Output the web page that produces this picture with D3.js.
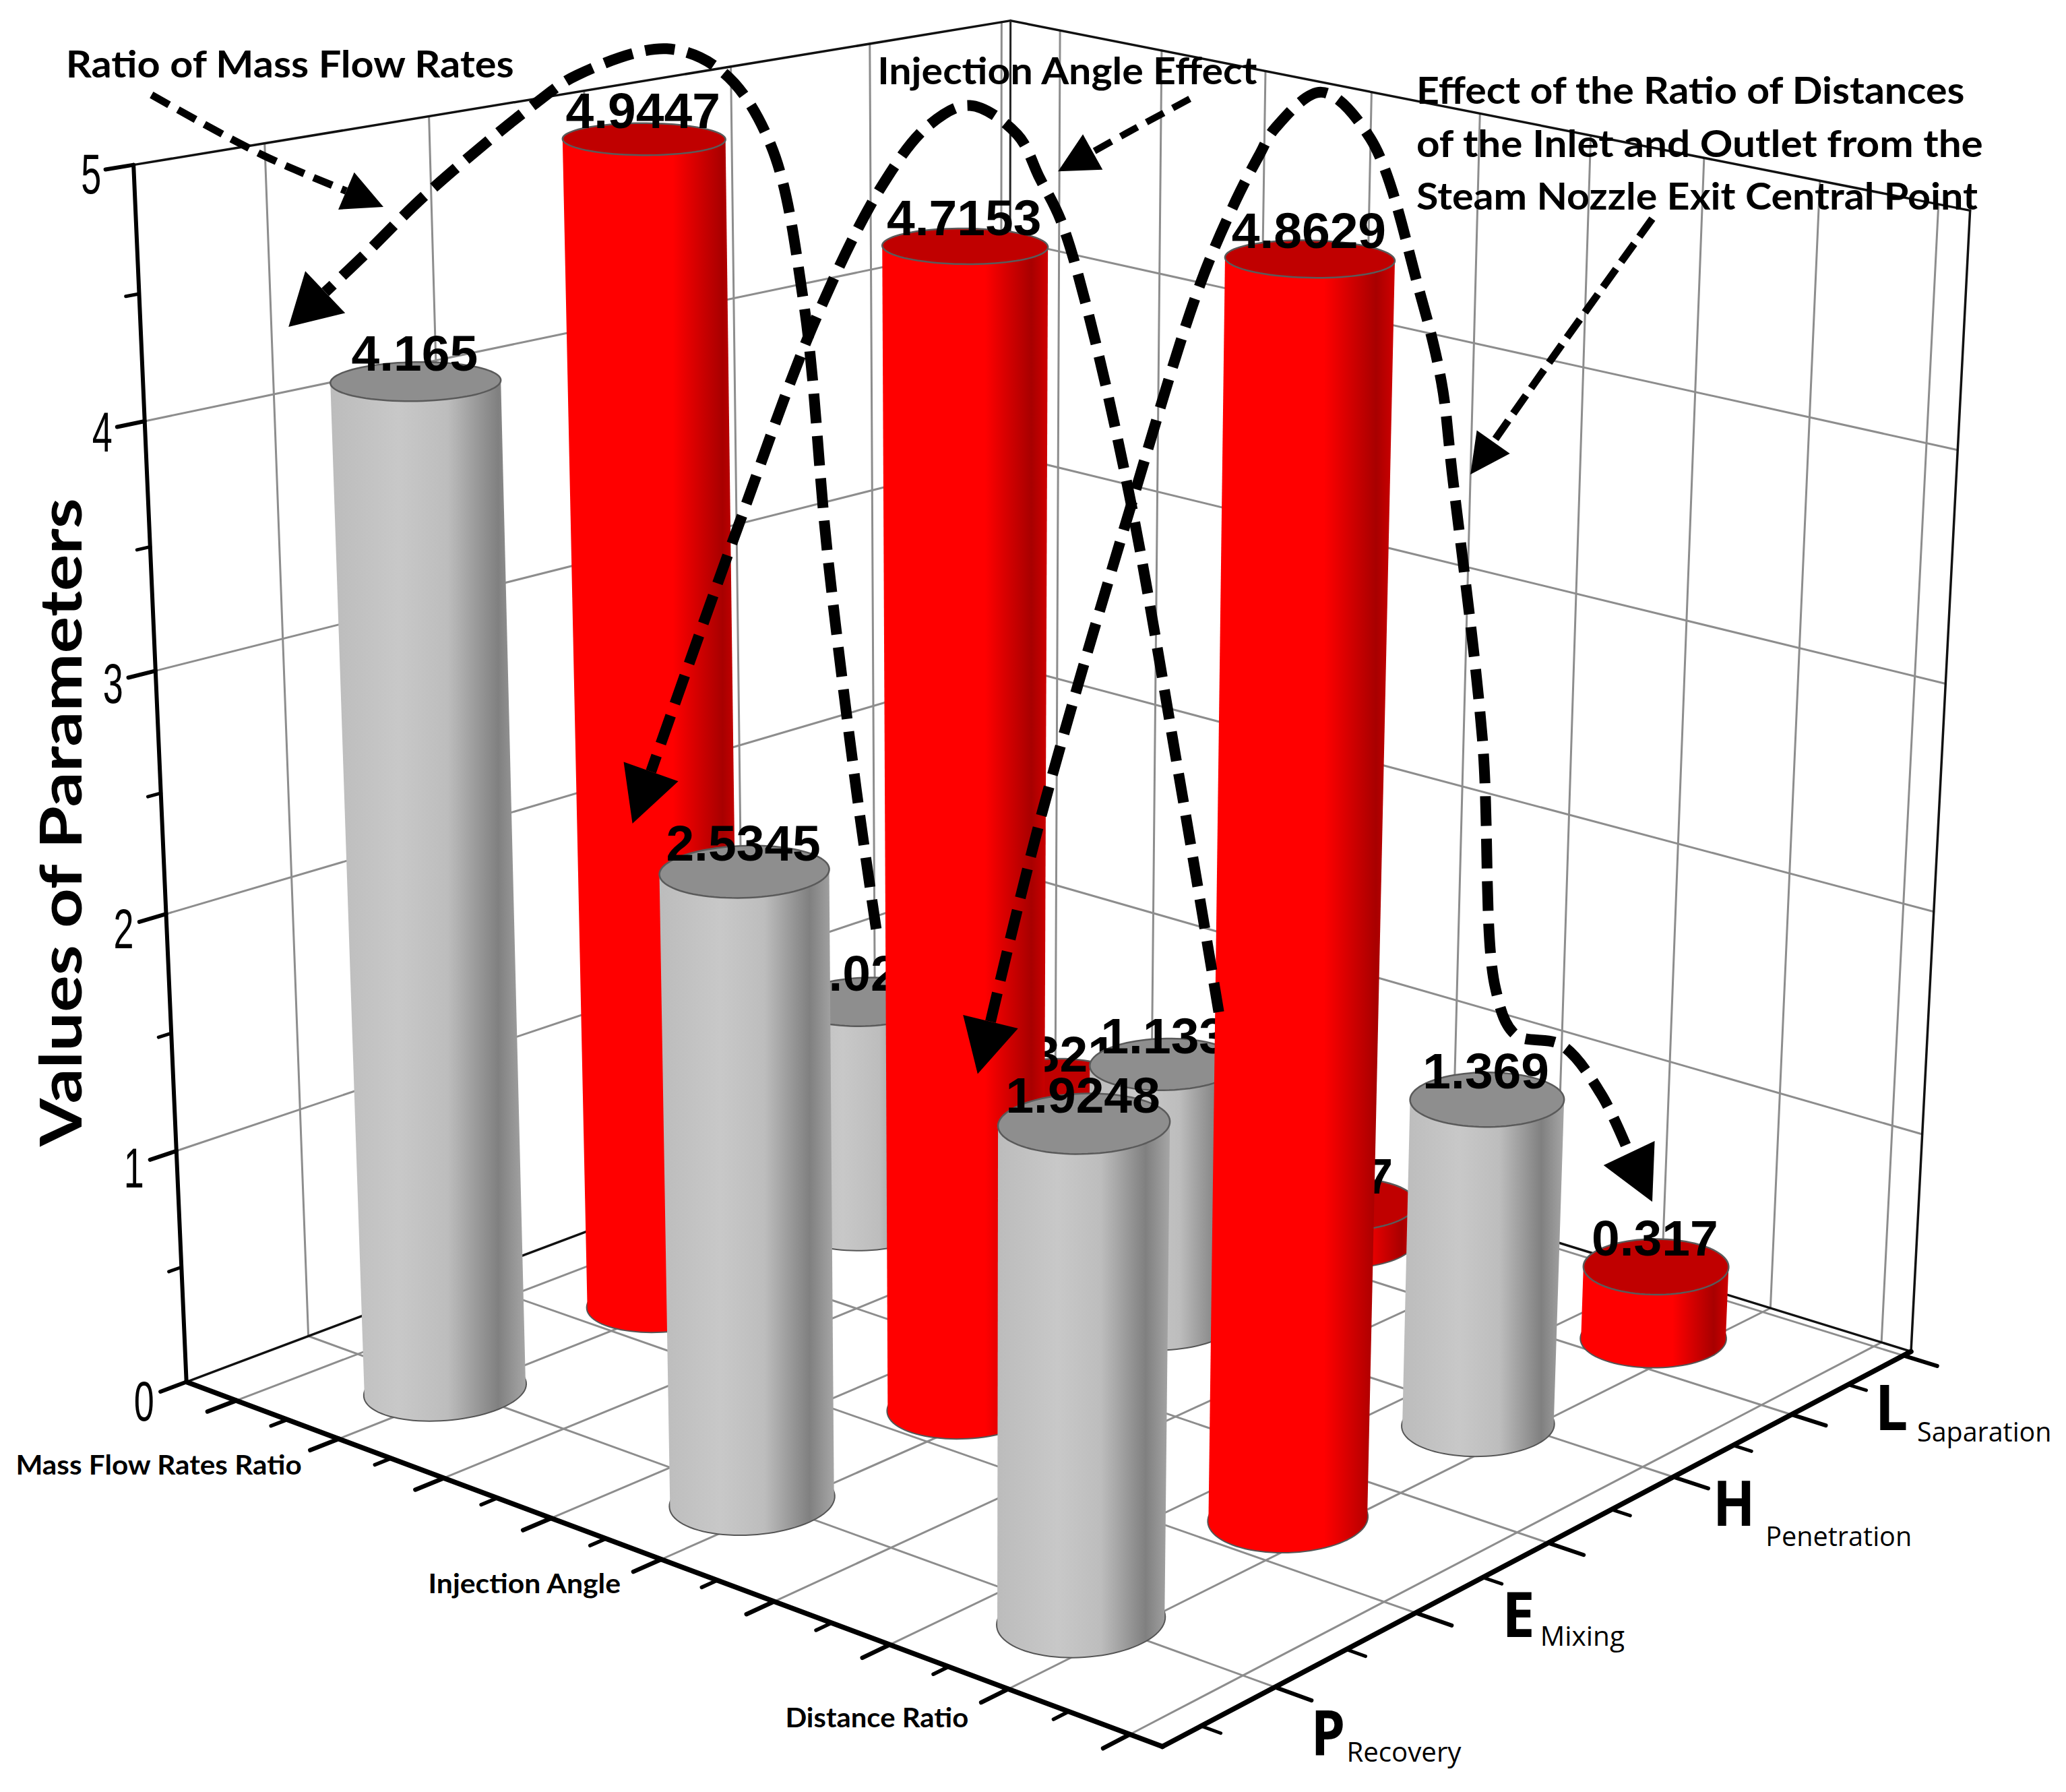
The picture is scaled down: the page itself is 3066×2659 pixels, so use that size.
<!DOCTYPE html>
<html><head><meta charset="utf-8">
<script src="https://cdnjs.cloudflare.com/ajax/libs/d3/7.8.5/d3.min.js"></script>
<style>html,body{margin:0;padding:0;background:#fff}svg{display:block}</style>
</head><body><svg id="c" width="3066" height="2659" xmlns="http://www.w3.org/2000/svg"></svg>
<script>
// ---------- data ----------
const columnNames = ['Mass Flow Rates Ratio','Injection Angle','Distance Ratio'];
const rowLetters  = ['P','E','H','L'];
const rowNames    = ['Recovery','Mixing','Penetration','Saparation'];
const rowRecovery    = [4.165, 2.5345, 1.9248];
const rowMixing      = [4.9447, 4.7153, 4.8629];
const rowPenetration = [1.024, 1.133, 1.369];
const rowSeparation  = [0.321, 0.17, 0.317];
const rowColors   = ['gray','red','gray','red'];
const valueTicks  = [0,1,2,3,4,5];
const yTitle = 'Values of Parameters';

// ---------- camera: reference points (u,v,w) -> picture ----------
const K0=3066/1568;
const boxCalib = [
 [0,0,0,285,2065],[1,0,0,1708,2593],[1,1,0,2846,1992],[0,1,0,1492,1590],
 [0,0,1,205,238],[0,1,1,1487,30],[1,1,1,2932,332]
];
const calib = [...boxCalib,...boxCalib,...boxCalib,
 [0,0,.4,251,1363],[0,0,.6,236,997],[1,0,1,1732,589],
 [.16,.375,.989,490*K0,107*K0],[.16,.125,.833,318*K0,290*K0]
];
function solve(M,b){const n=b.length;const A=M.map((r,i)=>[...r,b[i]]);
 for(let i=0;i<n;i++){let p=i;for(let k=i+1;k<n;k++)if(Math.abs(A[k][i])>Math.abs(A[p][i]))p=k;[A[i],A[p]]=[A[p],A[i]];
  for(let k=i+1;k<n;k++){const f=A[k][i]/A[i][i];for(let j=i;j<=n;j++)A[k][j]-=f*A[i][j];}}
 const x=Array(n).fill(0);for(let i=n-1;i>=0;i--){let s=A[i][n];for(let j=i+1;j<n;j++)s-=A[i][j]*x[j];x[i]=s/A[i][i];}return x;}
const rowsA=[],rhs=[];
calib.forEach(([u,v,w,X,Y])=>{const x=X/1000,y=Y/1000;
 rowsA.push([u,v,w,1,0,0,0,0,-x*u,-x*v,-x*w]);rhs.push(x);
 rowsA.push([0,0,0,0,u,v,w,1,-y*u,-y*v,-y*w]);rhs.push(y);});
const ATA=d3.range(11).map(i=>d3.range(11).map(j=>d3.sum(rowsA,r=>r[i]*r[j])));
const ATb=d3.range(11).map(i=>d3.sum(rowsA,(r,k)=>r[i]*rhs[k]));
const P=solve(ATA,ATb);
function project(u,v,w){const d=P[8]*u+P[9]*v+P[10]*w+1;
 return [1000*(P[0]*u+P[1]*v+P[2]*w+P[3])/d,1000*(P[4]*u+P[5]*v+P[6]*w+P[7])/d];}

// ---------- scales ----------
const uScale=d3.scaleLinear().domain([0,2]).range([.16,.82]);
const vScale=d3.scaleLinear().domain([0,3]).range([.125,.875]);
const wScale=d3.scaleLinear().domain([0,5]).range([0,1]);
const uTick=d3.scaleLinear().domain([0,8]).range([.0565,.97]);
const vTick=d3.scaleLinear().domain([0,5]).range([.13,.988]);
const barBoost=d3.scaleLinear().domain([.16,.82]).range([1.01,1.047]); // foreshortening of the columns toward the viewer
const rU=.0585,rV=.067;

const svg=d3.select('#c');
const line=d3.line();
const defs=svg.append('defs');
function grad(id,stops){const g=defs.append('linearGradient').attr('id',id).attr('x1',0).attr('x2',1).attr('y1',0).attr('y2',0);
 stops.forEach(([o,c])=>g.append('stop').attr('offset',o).attr('stop-color',c));}
grad('gray',[[0,'#bcbcbc'],[.35,'#c8c8c8'],[.6,'#bdbdbd'],[.86,'#808080'],[1,'#a6a6a6']]);
grad('red',[[0,'#ff0000'],[.62,'#ff0000'],[.9,'#a80000'],[1,'#d00000']]);

function seg(a,b,cls){svg.append('path').attr('d',line([project(...a),project(...b)])).attr('fill','none')
 .attr('stroke',cls.c).attr('stroke-width',cls.w).attr('stroke-linecap','round');}
const G={c:'#8d8d8d',w:3},K={c:'#111',w:3.5},T={c:'#000',w:7.5};

// ---------- grids ----------
const uM=d3.range(9).map(uTick),vM=d3.range(6).map(vTick);
uM.forEach(u=>{seg([u,0,0],[u,1,0],G);seg([u,1,0],[u,1,1],G);});
vM.forEach(v=>{seg([0,v,0],[1,v,0],G);seg([0,v,0],[0,v,1],G);});
valueTicks.slice(1,5).forEach(t=>{const w=wScale(t);seg([0,0,w],[0,1,w],G);seg([0,1,w],[1,1,w],G);});
// box edges
seg([0,0,1],[0,1,1],K);seg([0,1,1],[1,1,1],K);seg([0,0,0],[0,1,0],K);seg([0,1,0],[1,1,0],K);
seg([0,1,0],[0,1,1],{c:'#222',w:3});seg([1,1,0],[1,1,1],K);
// main axes
seg([0,0,0],[1,0,0],T);seg([1,0,0],[1,1,0],T);seg([0,0,0],[0,0,1],{c:'#000',w:6});
// ticks
d3.range(0,8.5,.5).forEach(i=>{const maj=Number.isInteger(i),u=uTick(i);seg([u,0,0],[u,-(maj?.03:.017),0],{c:'#000',w:maj?6.5:5.5});});
d3.range(-.5,5.5,.5).forEach(i=>{const maj=Number.isInteger(i),v=vTick(i);seg([1,v,0],[1+(maj?.034:.018),v,0],{c:'#000',w:maj?6:5});});
d3.range(0,5.5,.5).forEach(t=>{const maj=Number.isInteger(t),w=wScale(t);seg([0,0,w],[0,-(maj?.027:.013),w],{c:'#000',w:maj?6:5});});

// ---------- cylinders back to front ----------
const table=[rowRecovery,rowMixing,rowPenetration,rowSeparation];
const bars=[];table.forEach((vals,r)=>vals.forEach((val,c)=>bars.push({r,c,val,kind:rowColors[r]})));
bars.sort((a,b)=>(uScale(a.c)-vScale(a.r))-(uScale(b.c)-vScale(b.r)));
const angles=d3.range(0,360,4).map(d=>d*Math.PI/180);
const closed=d3.line().curve(d3.curveLinearClosed);
bars.forEach(b=>{
 const uc=uScale(b.c),vc=vScale(b.r),wt=wScale(b.val)*barBoost(uc);
 const ring=w=>angles.map(t=>project(uc+rU*Math.cos(t),vc+rV*Math.sin(t),w));
 const base=ring(0),top=ring(wt);
 const g=svg.append('g');
 g.append('path').attr('d',closed(base)).attr('fill','#555').attr('stroke','#555').attr('stroke-width',4);
 g.append('path').attr('d',closed(d3.polygonHull(base.concat(top)))).attr('fill',`url(#${b.kind})`);
 g.append('path').attr('d',closed(top)).attr('fill',b.kind==='red'?'#c00000':'#8e8e8e').attr('stroke','#5a5a5a').attr('stroke-width',2.5);
 const c=project(uc,vc,wt);
 g.append('text').attr('x',c[0]-2).attr('y',c[1]-16).attr('text-anchor','middle')
  .attr('font-family','"Liberation Sans"').attr('font-weight',700).attr('font-size',75).attr('fill','#000').text(String(b.val));
});

// ---------- annotations ----------
const k=K0, sc=a=>a.map(([x,y])=>[x*k,y*k]);
function head(tip,prev,len,hw){
 const a=Math.atan2(tip[1]-prev[1],tip[0]-prev[0]),ca=Math.cos(a),sa=Math.sin(a);
 const bc=[tip[0]-len*ca,tip[1]-len*sa];
 svg.append('path').attr('d',closed([tip,[bc[0]-hw*sa,bc[1]+hw*ca],[bc[0]+hw*sa,bc[1]-hw*ca]])).attr('fill','#000');
 return bc;
}
function arrow(pts,width,dash,len,hw,both){
 const p=sc(pts);
 const end=head(p[p.length-1],p[p.length-2],len,hw);
 let body=p.slice(0,-1).concat([end]);
 if(both){const st=head(p[0],p[1],len,hw);body=[st].concat(body.slice(1));}
 svg.append('path').attr('d',d3.line().curve(d3.curveCatmullRom.alpha(.5))(body)).attr('fill','none')
  .attr('stroke','#000').attr('stroke-width',width).attr('stroke-dasharray',dash);
}
arrow([[665,705],[650,600],[628,420],[610,230],[585,110],[549,55],[506,37],[438,57],[407,78],[325,146],[276,194],[219,248]],16,'44 19',75,43);
arrow([[925,768],[895,590],[858,380],[825,234],[805,167],[789,135],[772,102],[736,80],[705,95],[670,140],[620,240],[560,400],[480,625]],16,'44 19',82,43);
arrow([[742,815],[790,620],[858,385],[910,218],[938,152],[955,119],[968,97],[1003,70],[1040,105],[1077,220],[1094,290],[1102,358],[1125,560],[1135,750],[1150,785],[1185,793],[1215,830],[1254,912]],16,'44 19',80,42,true);
arrow([[115,72],[200,118],[291,157]],11,'30 15',60,30);
arrow([[903,75],[855,101],[803,130]],10,'29 15',59,30);
arrow([[1254,166],[1185,262],[1116,360]],11,'33 13',59,30);

function lab(t,x0,x1,y,fs,w,fam){svg.append('text').attr('x',x0*k).attr('y',y*k).attr('font-family',fam||'Lato').attr('font-weight',w||700)
 .attr('font-size',fs).attr('textLength',(x1-x0)*k).attr('lengthAdjust','spacingAndGlyphs').attr('fill','#000').text(t);}
lab('Ratio of Mass Flow Rates',50,390,59,56);
lab('Injection Angle Effect',666,954,64,56);
lab('Effect of the Ratio of Distances',1075,1491,79,56);
lab('of the Inlet and Outlet from the',1075,1505,119,56);
lab('Steam Nozzle Exit Central Point',1075,1501,159,56);
// column names
const colPos=[[12,229,1119],[325,471,1209],[596,735,1311]];
columnNames.forEach((n,i)=>lab(n,colPos[i][0],colPos[i][1],colPos[i][2],40));
// row names
const letterPos=[[995,1021,1332],[1140,1165,1242],[1300,1332,1158],[1423,1448,1085]];
const subPos=[[1022,1109,1337],[1169,1233,1249],[1340,1451,1173],[1455,1557,1094]];
rowLetters.forEach((n,i)=>lab(n,letterPos[i][0],letterPos[i][1],letterPos[i][2],94,700,'"Open Sans"'));
rowNames.forEach((n,i)=>lab(n,subPos[i][0],subPos[i][1],subPos[i][2],40,400,'"Open Sans"'));
// y tick labels
valueTicks.forEach(t=>{const p=project(0,0,wScale(t));
 svg.append('text').attr('x',p[0]-78).attr('y',p[1]+42+ (5-t)*3).attr('font-family','"Liberation Sans"').attr('font-size',84)
  .attr('textLength',30).attr('lengthAdjust','spacingAndGlyphs').attr('fill','#000').text(t);});
// y title
svg.append('text').attr('transform',`translate(${62*k},${870*k}) rotate(-90)`).attr('font-family','Lato').attr('font-weight',700)
 .attr('font-size',86).attr('textLength',492*k).attr('lengthAdjust','spacingAndGlyphs').attr('fill','#000').text(yTitle);
</script></body></html>
